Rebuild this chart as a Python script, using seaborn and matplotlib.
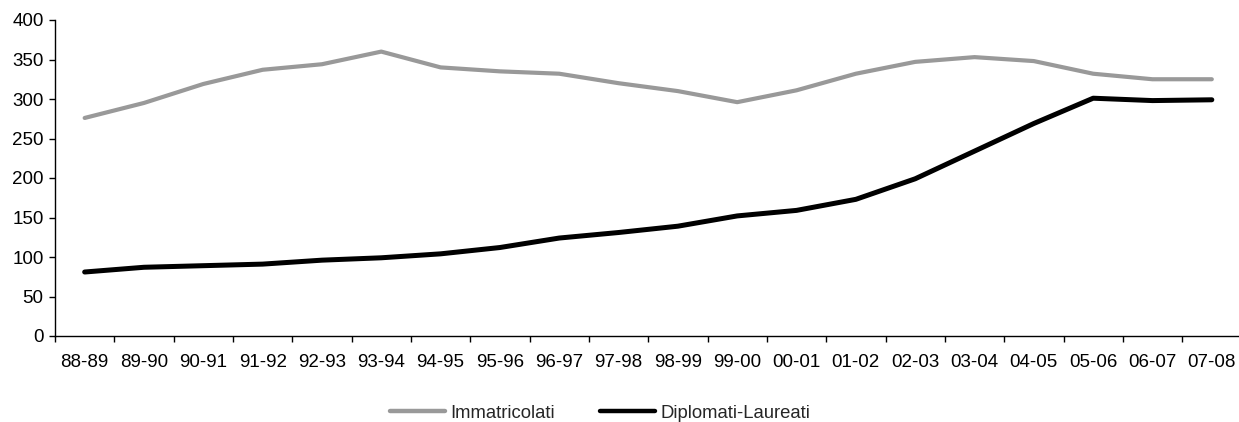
import matplotlib
matplotlib.use("Agg")
import matplotlib.pyplot as plt
import seaborn as sns
import pandas as pd
import numpy as np

years = ["88-89", "89-90", "90-91", "91-92", "92-93", "93-94", "94-95", "95-96",
         "96-97", "97-98", "98-99", "99-00", "00-01", "01-02", "02-03", "03-04",
         "04-05", "05-06", "06-07", "07-08"]
immatricolati = [276, 295, 319, 337, 344, 360, 340, 335, 332, 320, 310, 296,
                 311, 332, 347, 353, 348, 332, 325, 325]
diplomati = [81, 87, 89, 91, 96, 99, 104, 112, 124, 131, 139, 152,
             159, 173, 199, 234, 269, 301, 298, 299]
series_names = ["Immatricolati", "Diplomati-Laureati"]
colors = ["#999999", "#000000"]

df = pd.DataFrame({
    "anno": years * 2,
    "pos": list(range(len(years))) * 2,
    "valore": immatricolati + diplomati,
    "serie": [series_names[0]] * len(years) + [series_names[1]] * len(years),
})

sns.set_theme(style="white")
plt.rcParams["font.family"] = ["Liberation Sans", "DejaVu Sans"]

fig = plt.figure(figsize=(12.39, 4.22), dpi=100)
ax = fig.add_axes([55 / 1239, 1 - 336 / 422, 1 - 55 / 1239 + 0.002, (336 - 20) / 422])

sns.lineplot(data=df, x="pos", y="valore", hue="serie", hue_order=series_names,
             palette=colors, linewidth=3.2, ax=ax, legend=True, sort=False)
for ln, lw in zip(ax.lines, [3.0, 3.6]):
    ln.set_linewidth(lw)
    ln.set_solid_capstyle("round")

ax.set_xlim(-0.5, len(years) - 0.5)
ax.set_ylim(0, 400)
ax.set_yticks(np.arange(0, 401, 50))
ax.set_xticks(range(len(years)))
ax.set_xticklabels(years)
ax.set_xticks(np.arange(-0.5, len(years), 1.0), minor=True)
ax.set_xlabel("")
ax.set_ylabel("")

for s in ["top", "right"]:
    ax.spines[s].set_visible(False)
for s in ["left", "bottom"]:
    ax.spines[s].set_color("#000000")
    ax.spines[s].set_linewidth(1.0)

ax.tick_params(axis="x", which="major", length=0, pad=13, labelsize=13.5, colors="#000000")
ax.tick_params(axis="x", which="minor", length=4.2, width=1.0, color="#000000", bottom=True)
ax.tick_params(axis="y", which="major", length=4.2, width=1.0, color="#000000",
               left=True, pad=4, labelsize=13.5, labelcolor="#000000")

handles, labels = ax.get_legend_handles_labels()
ax.legend_.remove()
fig.legend(handles, labels, loc="center", bbox_to_anchor=(600 / 1239, 1 - 413 / 422),
           ncol=2, frameon=False, fontsize=13.3, handlelength=3.0,
           handletextpad=0.3, columnspacing=2.4, borderaxespad=0, borderpad=0)

fig.savefig("out.png", dpi=100)
